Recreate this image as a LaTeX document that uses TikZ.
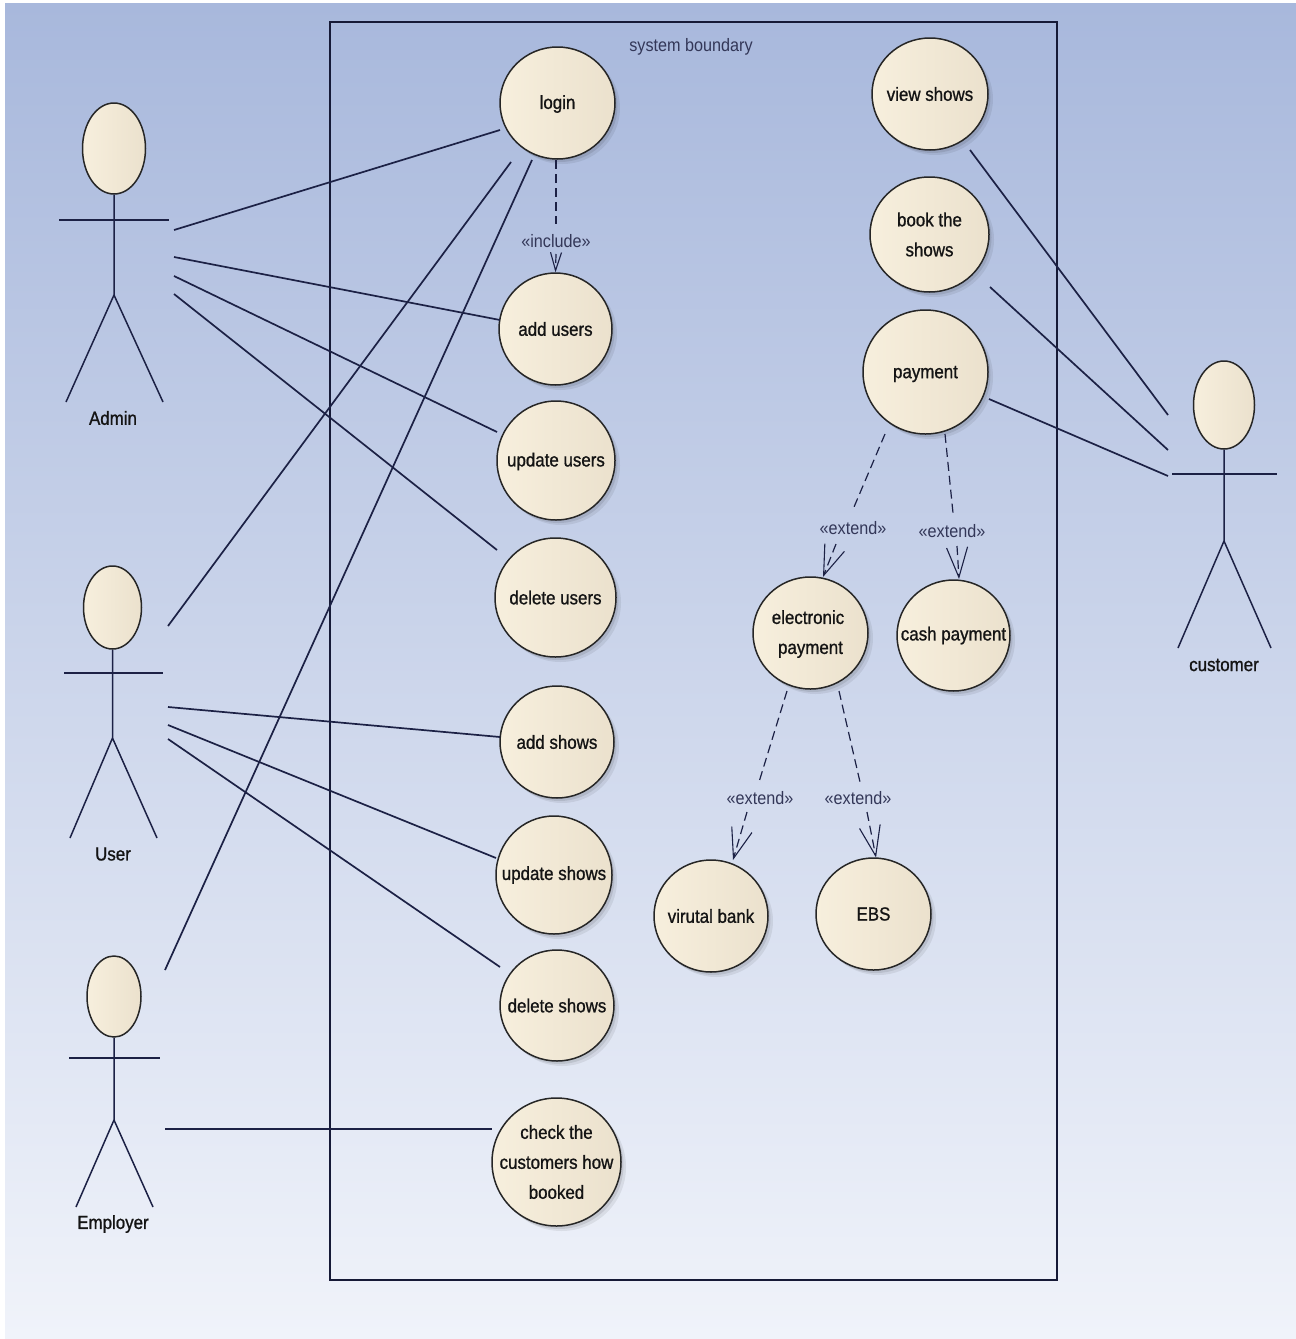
\documentclass[tikz,border=0pt]{standalone}
\usepackage{fontspec}
\usetikzlibrary{shapes.geometric,shadows,arrows.meta}
\setmainfont{Liberation Sans}
\newfontfamily\ucfont[FakeStretch=0.89,FakeBold=1.0]{Liberation Sans}
\newfontfamily\stfont[FakeStretch=0.9]{Liberation Sans}
\definecolor{ink}{HTML}{1C2145}
\definecolor{creamL}{HTML}{F7EFDD}
\definecolor{creamM}{HTML}{FBF4E5}
\definecolor{creamR}{HTML}{EBE1CD}
\tikzset{
  x=1pt,y=-1pt,
  cream/.style={left color=creamL,middle color=creamM,right color=creamR,draw=black!85,line width=1.5pt},
  softshadow/.style={general shadow={shadow xshift=2.5pt,shadow yshift=-3pt,fill=black,opacity=.09,shadow scale=1},
                     general shadow={shadow xshift=5pt,shadow yshift=-5pt,fill=black,opacity=.07,shadow scale=1}},
  uctext/.style={font=\ucfont\fontsize{19}{30}\selectfont,text=black!92,align=center,inner sep=0pt},
  usecase/.style n args={4}{ellipse,cream,softshadow,inner sep=0pt,minimum width=#1pt,minimum height=#2pt,
     label={[uctext,yshift=#4pt]center:#3}},
  head/.style n args={2}{ellipse,cream,inner sep=0pt,minimum width=#1pt,minimum height=#2pt},
  stick/.style={draw=ink,line width=1.5pt},
  armline/.style={draw=ink,line width=2pt},
  assoc/.style={draw=ink,line width=1.7pt},
  depend/.style={draw=ink,line width=1.2pt,dash pattern=on 9pt off 5pt},
  dependtip/.style={depend,-{Straight Barb[length=30pt,width=21pt,line width=1.1pt]}},
  includetip/.style={depend,-{Straight Barb[length=18pt,width=11pt,line width=1.1pt]}},
  stereo/.style={font=\stfont\fontsize{18}{20}\selectfont,text=ink!90,inner sep=0pt},
  actorname/.style={font=\ucfont\fontsize{19}{22}\selectfont,text=black!92,inner sep=0pt},
}
\begin{document}
\begin{tikzpicture}
\useasboundingbox (0,0) rectangle (1296,1339);
\fill[white] (0,0) rectangle (1296,1339);
\shade[top color={rgb,255:red,168;green,184;blue,220},bottom color={rgb,255:red,240;green,243;blue,250}] (5,3) rectangle (1296,1338);

% system boundary
\coordinate (bTL) at (330,22);
\coordinate (bBR) at (1057,1280);
\draw[draw=ink!80!black,line width=1.8pt] (bTL) rectangle (bBR);
\node[stereo] (boundary) at (691,47) {system boundary};

% use cases
\node[usecase={115}{112}{login}{-1}] (login) at (557.5,103) {};
\node[usecase={113}{112}{add users}{0}] (addusers) at (555.5,329) {};
\node[usecase={118}{119}{update users}{-1}] (updusers) at (556,460.5) {};
\node[usecase={121}{119}{delete users}{0}] (delusers) at (555.5,597.5) {};
\node[usecase={114}{112}{add shows}{0}] (addshows) at (557,742) {};
\node[usecase={116}{118}{update shows}{0}] (updshows) at (554,875) {};
\node[usecase={114}{111}{delete shows}{0}] (delshows) at (557,1005.5) {};
\node[usecase={129}{128}{check the\\customers how\\booked}{0}] (check) at (556.5,1162) {};
\node[usecase={116}{112}{view shows}{0}] (view) at (930,94) {};
\node[usecase={119}{115}{book the\\shows}{0}] (book) at (929.5,234.5) {};
\node[usecase={125}{124}{payment}{-2}] (pay) at (925.5,372) {};
\node[usecase={115}{112}{electronic\hspace*{5pt}\\payment}{-1}] (elec) at (810.5,633) {};
\node[usecase={113}{111}{cash payment}{0}] (cash) at (953.5,635.5) {};
\node[usecase={114}{112}{virutal bank}{0}] (vbank) at (711,916) {};
\node[usecase={115}{112}{EBS}{0}] (ebs) at (873.5,914) {};

% actors
\node[head={63}{91}] (adminh) at (114,148.5) {};
\coordinate (adminl) at (59,220); \coordinate (adminr) at (169,220);
\coordinate (adminb) at (114,295); \coordinate (adminll) at (66,402); \coordinate (adminlr) at (163,402);
\draw[armline] (adminl) -- (adminr);
\draw[stick] (adminh) -- (adminb) (adminll) -- (adminb) -- (adminlr);
\node[actorname] (adminname) at (113,418) {Admin};

\node[head={58}{83}] (userh) at (112.5,607.5) {};
\coordinate (userl) at (64,673); \coordinate (userr) at (163,673);
\coordinate (userb) at (112.5,738); \coordinate (userll) at (70,838); \coordinate (userlr) at (157,838);
\draw[armline] (userl) -- (userr);
\draw[stick] (userh) -- (userb) (userll) -- (userb) -- (userlr);
\node[actorname] (username) at (113,854) {User};

\node[head={54}{81}] (emph) at (114,996.5) {};
\coordinate (empl) at (69,1058); \coordinate (empr) at (160,1058);
\coordinate (empb) at (114,1120); \coordinate (empll) at (76,1207); \coordinate (emplr) at (153,1207);
\draw[armline] (empl) -- (empr);
\draw[stick] (emph) -- (empb) (empll) -- (empb) -- (emplr);
\node[actorname] (empname) at (113,1224) {Employer};

\node[head={61}{88}] (custh) at (1224,405) {};
\coordinate (custl) at (1172,474); \coordinate (custr) at (1277,474);
\coordinate (custb) at (1224,541); \coordinate (custll) at (1178,648); \coordinate (custlr) at (1271,648);
\draw[armline] (custl) -- (custr);
\draw[stick] (custh) -- (custb) (custll) -- (custb) -- (custlr);
\node[actorname] (custname) at (1224,665) {customer};

% association end points at the actors
\coordinate (a1) at (174,230);
\coordinate (a2) at (174,257);
\coordinate (a3) at (174,276);
\coordinate (a4) at (174,294);
\coordinate (u1) at (168,626);
\coordinate (u2) at (168,707);
\coordinate (u3) at (168,725);
\coordinate (u4) at (168,739);
\coordinate (e1) at (165,970);
\coordinate (e2) at (165,1129);
\coordinate (c1) at (1168,415);
\coordinate (c2) at (1168,450);
\coordinate (c3) at (1168,476);

\draw[assoc] (a1) -- ([shift={(-57.5,27)}]login.center);
\draw[assoc] (a2) -- ([shift={(-55.5,-9)}]addusers.center);
\draw[assoc] (a3) -- ([shift={(-59,-28.5)}]updusers.center);
\draw[assoc] (a4) -- ([shift={(-58.5,-47.5)}]delusers.center);
\draw[assoc] (u1) -- ([shift={(-46.5,59)}]login.center);
\draw[assoc] (u2) -- ([shift={(-57,-5)}]addshows.center);
\draw[assoc] (u3) -- ([shift={(-58,-17)}]updshows.center);
\draw[assoc] (u4) -- ([shift={(-57,-38.5)}]delshows.center);
\draw[assoc] (e1) -- ([shift={(-25.5,57)}]login.center);
\draw[assoc] (e2) -- ([shift={(-64.5,-33)}]check.center);
\draw[assoc] (c1) -- ([shift={(40,56)}]view.center);
\draw[assoc] (c2) -- ([shift={(60.5,52.5)}]book.center);
\draw[assoc] (c3) -- ([shift={(63.5,27)}]pay.center);

% dependencies, broken around their labels
\coordinate (i1) at (556,224);
\coordinate (i2) at (556,254);
\node[stereo] (incl) at (556,241) {«include»};
\draw[depend] ([shift={(-1.5,57)}]login.center) -- (i1);
\draw[includetip] (i2) -- (addusers.90);

\coordinate (x1a) at (854,507);
\coordinate (x1b) at (836,544);
\node[stereo] (x1) at (853,528) {«extend»};
\draw[depend] ([shift={(-40.5,62)}]pay.center) -- (x1a);
\draw[dependtip] (x1b) -- ([shift={(12.5,-56)}]elec.center);

\coordinate (x2a) at (953,513);
\coordinate (x2b) at (957,546);
\node[stereo] (x2) at (952,531) {«extend»};
\draw[depend] ([shift={(19.5,62)}]pay.center) -- (x2a);
\draw[dependtip] (x2b) -- ([shift={(5.5,-56.5)}]cash.center);

\coordinate (x3a) at (759,782);
\coordinate (x3b) at (747,812);
\node[stereo] (x3) at (760,798) {«extend»};
\draw[depend] ([shift={(-23.5,58)}]elec.center) -- (x3a);
\draw[dependtip] (x3b) -- ([shift={(22,-56)}]vbank.center);

\coordinate (x4a) at (860,782);
\coordinate (x4b) at (867,812);
\node[stereo] (x4) at (858,798) {«extend»};
\draw[depend] ([shift={(28.5,58)}]elec.center) -- (x4a);
\draw[dependtip] (x4b) -- ([shift={(2.5,-56.5)}]ebs.center);
\end{tikzpicture}
\end{document}
